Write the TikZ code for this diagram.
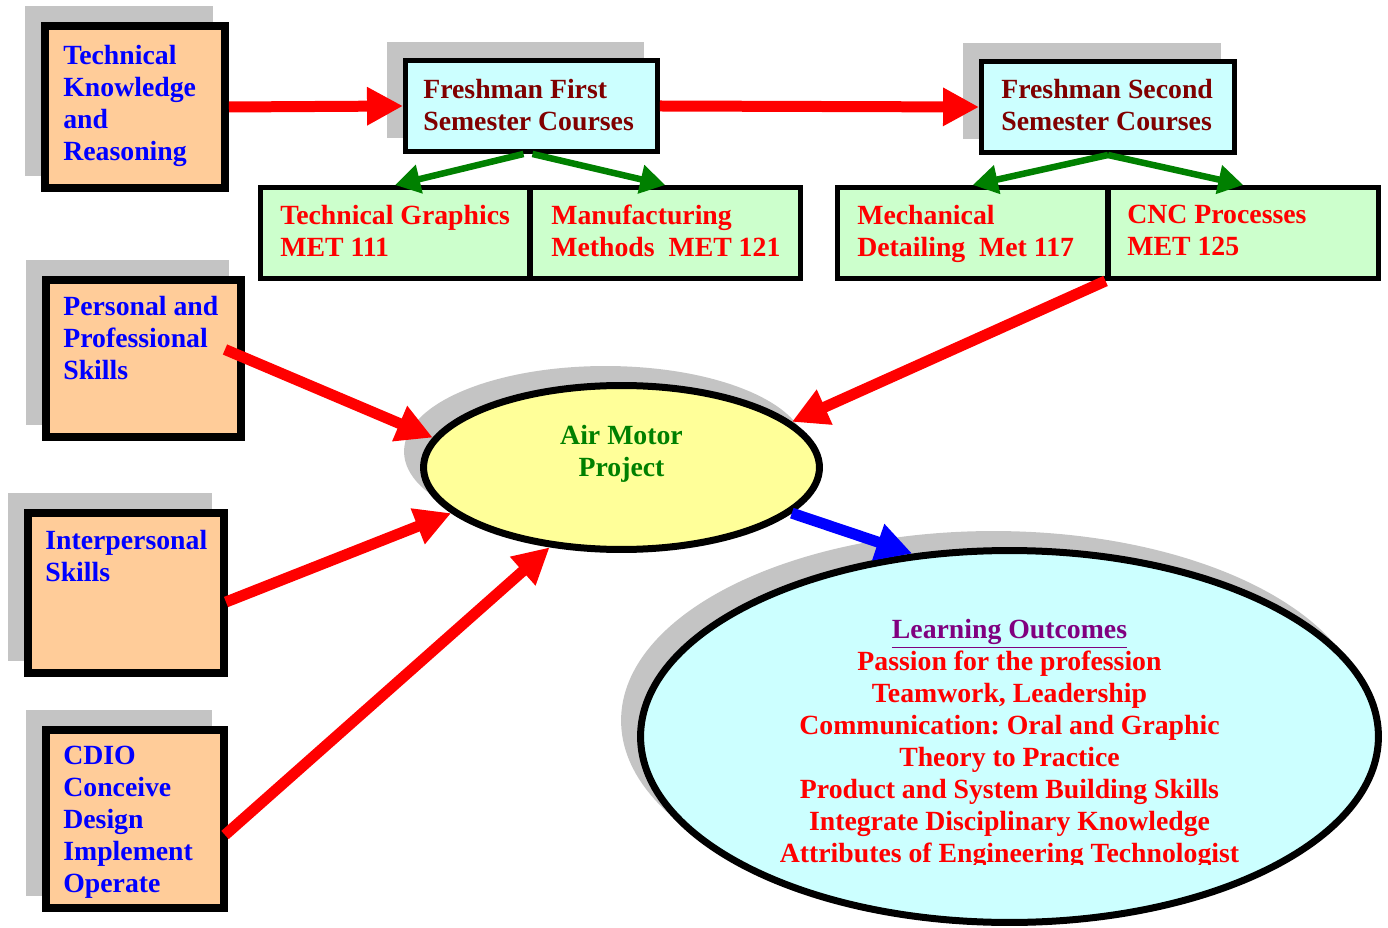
\documentclass[tikz,border=0pt]{standalone}
\usepackage{fontspec}
\setmainfont{Liberation Serif}
\frenchspacing
\usetikzlibrary{arrows.meta,shapes.geometric,shadows}
\definecolor{orangefill}{HTML}{FFCC99}
\definecolor{cyanfill}{HTML}{CCFFFF}
\definecolor{greenfill}{HTML}{CCFFCC}
\definecolor{yellowfill}{HTML}{FFFF99}
\definecolor{darkred}{HTML}{800000}
\definecolor{dkgreen}{HTML}{008000}
\definecolor{purp}{HTML}{800080}
\definecolor{shadowgray}{HTML}{C4C4C4}
\begin{document}
\begin{tikzpicture}[x=0.02cm, y=-0.02cm,
  every node/.style={font=\bfseries\fontsize{15.8}{18.2}\selectfont},
  shd/.style={drop shadow={shadow xshift=-0.32cm, shadow yshift=0.32cm, fill=shadowgray, draw=shadowgray, line width=#1, opacity=1}},
  obox/.style={rectangle, draw=black, line width=0.16cm, fill=orangefill, inner sep=0, shd=0.16cm},
  cbox/.style={rectangle, draw=black, line width=0.1cm, fill=cyanfill, inner sep=0, shd=0.1cm},
  gbox/.style={rectangle, draw=black, line width=0.1cm, fill=greenfill, inner sep=0, minimum height=1.82cm},
  txt/.style={align=left, anchor=north west, inner sep=0},
  btext/.style={txt, text=blue},
  ftext/.style={txt, text=darkred},
  rtext/.style={txt, text=red},
  redarrow/.style={draw=red, line width=0.22cm, -{Triangle[length=0.72cm, width=0.72cm]}},
  bluearrow/.style={draw=blue, line width=0.22cm, -{Triangle[length=0.72cm, width=0.72cm]}},
  greenarrow/.style={draw=dkgreen, line width=0.13cm, -{Triangle[length=0.5cm, width=0.56cm]}}
]
\useasboundingbox (0,0) rectangle (1388,928);

% left input boxes
\node[obox, minimum width=3.6cm, minimum height=3.24cm] (tk) at (135,107) {};
\node[btext] (tkT) at (63,45) {Technical\\Knowledge\\and\\Reasoning};
\node[obox, minimum width=3.9cm, minimum height=3.14cm] (pp) at (143.5,358.5) {};
\node[btext] (ppT) at (63,296) {Personal and\\Professional\\Skills};
\node[obox, minimum width=3.92cm, minimum height=3.2cm] (ip) at (126,593) {};
\node[btext] (ipT) at (45,530) {Interpersonal\\Skills};
\node[obox, minimum width=3.56cm, minimum height=3.56cm] (cd) at (135,819) {};
\node[btext] (cdT) at (63,746) {CDIO\\Conceive\\Design\\Implement\\Operate};

% semester boxes
\node[cbox, minimum width=5.04cm, minimum height=1.82cm] (fs) at (531.5,106) {};
\node[ftext] (fsT) at (423,79) {Freshman First\\Semester Courses};
\node[cbox, minimum width=5.06cm, minimum height=1.82cm] (ss) at (1108,107) {};
\node[ftext] (ssT) at (1001,79) {Freshman Second\\Semester Courses};

% course boxes
\node[gbox, minimum width=5.4cm] (tg) at (395,233) {};
\node[gbox, minimum width=5.41cm] (mm) at (665.25,233) {};
\node[gbox, minimum width=5.41cm] (md) at (972.75,233) {};
\node[gbox, minimum width=5.41cm] (cnc) at (1243.25,233) {};
\node[rtext] (tgT) at (280,205) {Technical Graphics\\MET 111};
\node[rtext] (mmT) at (551,205) {Manufacturing\\Methods\ \ MET 121};
\node[rtext] (mdT) at (857,205) {Mechanical\\Detailing\ \ Met 117};
\node[rtext] (cncT) at (1127,205) {CNC Processes\\MET 125};

% ellipses
\node[ellipse, draw=black, line width=0.14cm, fill=cyanfill, inner sep=0, minimum width=14.76cm, minimum height=7.44cm, shd=0.14cm] (lo) at (1009.5,736.5) {};
\node[ellipse, draw=black, line width=0.14cm, fill=yellowfill, inner sep=0, minimum width=7.92cm, minimum height=3.28cm, shd=0.14cm] (am) at (621.5,467.5) {};
\node[align=center, anchor=north, inner sep=0, text=dkgreen] (amT) at (621.5,425) {Air Motor\\Project};
\begin{scope}
\clip (600,540) rectangle (1388,864);
\node[align=center, anchor=north, inner sep=0, text=red] (loT) at (1009.5,619)
  {\textcolor{purp}{\underline{Learning Outcomes}}\\Passion for the profession\\Teamwork, Leadership\\Communication: Oral and Graphic\\Theory to Practice\\Product and System Building Skills\\Integrate Disciplinary Knowledge\\Attributes of Engineering Technologist};
\end{scope}

% connectors
\draw[redarrow] (tk.east) -- (fs.west);
\draw[redarrow] (fs.east) -- (ss.west);
\draw[greenarrow] ([xshift=-0.16cm]fs.south) -- (tg.north);
\draw[greenarrow] ([xshift=0.02cm]fs.south) -- (mm.north);
\draw[greenarrow] (ss.south) -- (md.north);
\draw[greenarrow] (ss.south) -- (cnc.north);
\draw[redarrow] ([shift={(-20,-9)}]pp.east) -- (am.171);
\draw[redarrow] ([shift={(-2,9)}]ip.east) -- (am.195);
\draw[redarrow] ([shift={(-3,16)}]cd.east) -- (am.228);
\draw[redarrow] (cnc.south west) -- (am.15);
\draw[bluearrow] (am.-15) -- (lo.118);
\end{tikzpicture}
\end{document}
